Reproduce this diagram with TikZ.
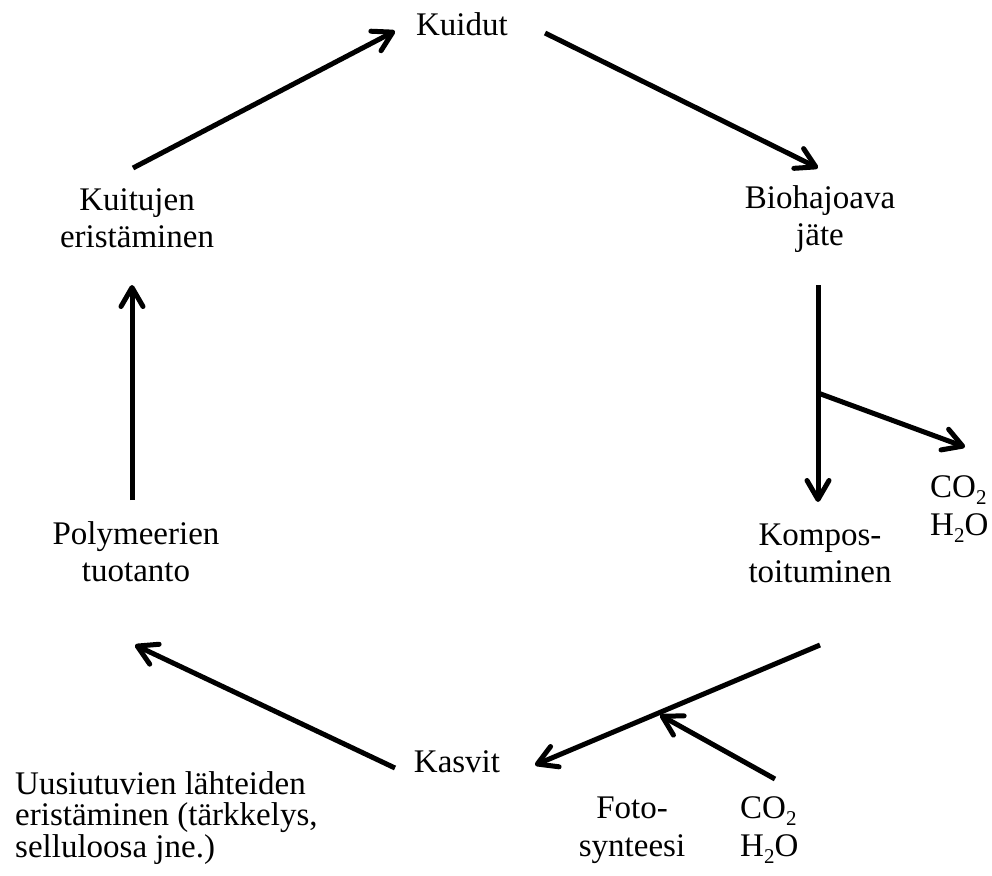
\documentclass[tikz,border=0pt]{standalone}
\usepackage{fontspec}
\setmainfont{Liberation Serif}
\usetikzlibrary{arrows.meta}
\newcommand{\subtwo}{\raisebox{-7pt}{\fontsize{21}{21}\selectfont 2}}
\tikzset{
  lbl/.style={inner sep=0pt, align=center, font=\fontsize{33}{37}\selectfont},
  lblL/.style={inner sep=0pt, align=left, font=\fontsize{33}{31.5}\selectfont},
  chem/.style={inner sep=0pt, align=left, font=\fontsize{33}{38}\selectfont},
  chemC/.style={inner sep=0pt, align=center, font=\fontsize{33}{38}\selectfont},
  flow/.style={line width=5pt, -{Straight Barb[length=19pt,width=22pt,round]}},
}
\begin{document}
\begin{tikzpicture}[x=1pt,y=-1pt]
\useasboundingbox (0,0) rectangle (992,875);
% labels (base anchor = baseline of last line)
\node[lbl, anchor=base] (kuidut) at (462,36) {Kuidut};
\node[lbl, anchor=base] (bio) at (820,245) {Biohajoava\\jäte};
\node[lbl, anchor=base] (kuit) at (137,247) {Kuitujen\\eristäminen};
\node[lbl, anchor=base] (poly) at (136,581) {Polymeerien\\tuotanto};
\node[lbl, anchor=base] (komp) at (820,582) {Kompos-\\toituminen};
\node[lbl, anchor=base] (kasvit) at (457,772) {Kasvit};
\node[lblL, anchor=base west] (uusi) at (15,857) {Uusiutuvien lähteiden\\eristäminen (tärkkelys,\\selluloosa jne.)};
\node[chemC, anchor=base] (foto) at (632,856) {Foto-\\synteesi};
\node[chem, anchor=base west] (co2b) at (740,856) {CO\subtwo\\H\subtwo O};
\node[chem, anchor=base west] (co2r) at (930,535) {CO\subtwo\\H\subtwo O};
% connector end points
\coordinate (a1s) at (133,168); \coordinate (a1e) at (395,31);
\coordinate (a2s) at (545,33);  \coordinate (a2e) at (818,168);
\coordinate (a3s) at (818,285); \coordinate (a3e) at (818,502);
\coordinate (br)  at (818,393); \coordinate (a4e) at (965,447);
\coordinate (a5s) at (820,645); \coordinate (a5e) at (535,765);
\coordinate (a6s) at (775,779); \coordinate (a6e) at (660,715);
\coordinate (a7s) at (395,768); \coordinate (a7e) at (135,645);
\coordinate (a8s) at (132,500); \coordinate (a8e) at (132,285);
% connectors
\draw[flow] (a1s) -- (a1e);
\draw[flow] (a2s) -- (a2e);
\draw[flow] (a3s) -- (a3e);
\draw[flow] (br) -- (a4e);
\draw[flow] (a5s) -- (a5e);
\draw[flow] (a6s) -- (a6e);
\draw[flow] (a7s) -- (a7e);
\draw[flow] (a8s) -- (a8e);
\end{tikzpicture}
\end{document}
